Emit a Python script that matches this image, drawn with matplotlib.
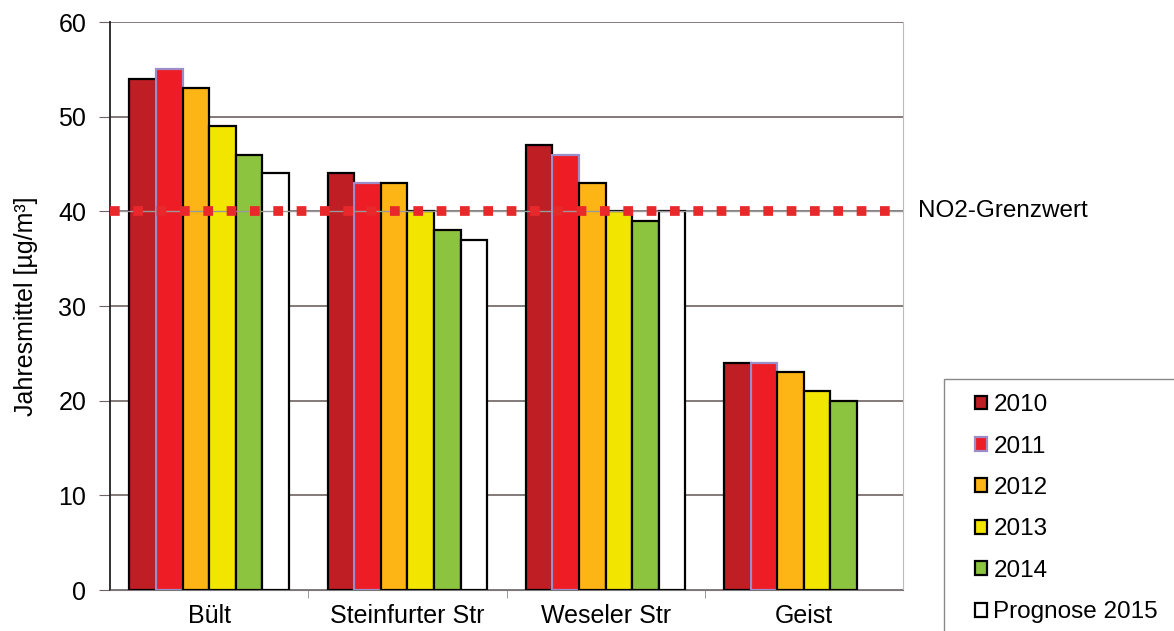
import matplotlib.pyplot as plt
from matplotlib.patches import Rectangle
import numpy as np

plt.rcParams['font.family'] = ['Liberation Sans', 'DejaVu Sans']

# Data
stations = ['Bült', 'Steinfurter Str', 'Weseler Str', 'Geist']
years = ['2010', '2011', '2012', '2013', '2014', 'Prognose 2015']
values = {
    '2010': [54, 44, 47, 24],
    '2011': [55, 43, 46, 24],
    '2012': [53, 43, 43, 23],
    '2013': [49, 40, 40, 21],
    '2014': [46, 38, 39, 20],
    'Prognose 2015': [44, 37, 40, np.nan],
}
limit_value = 40
limit_label = 'NO2-Grenzwert'

colors = ['#BE1E24', '#EE1D25', '#FDB515', '#F2E500', '#8CC43F', '#FFFFFF']
edges = ['#000000', '#9C8CC8', '#000000', '#000000', '#000000', '#000000']

fig = plt.figure(figsize=(11.74, 6.31), dpi=100)
ax = fig.add_axes([110 / 1174, 41 / 631, 793 / 1174, 568 / 631])

x = np.arange(len(stations))
width = 0.134
for i, yr in enumerate(years):
    ax.bar(x + (i - 2.5) * width, values[yr], width, color=colors[i],
           edgecolor=edges[i], linewidth=1.6, label=yr, zorder=3)

ax.set_xlim(-0.5, len(stations) - 0.5)
ax.set_ylim(0, 60)
ax.set_yticks(range(0, 61, 10))
ax.yaxis.grid(True, color='#6E6262', linewidth=1.2, zorder=0)
ax.tick_params(axis='y', length=8, color='#6E6262', labelsize=18, pad=9)
ax.set_xticks(x)
ax.set_xticklabels(stations, fontsize=18)
ax.tick_params(axis='x', length=0, pad=10)
ax.set_xticks(np.arange(0.5, len(stations) - 0.5, 1), minor=True)
ax.tick_params(axis='x', which='minor', length=6, color='#888888')
ax.set_ylabel('Jahresmittel [µg/m³]', fontsize=18)
ax.yaxis.set_label_coords(-72 / 793, 0.5)

ax.spines['left'].set_color('#222222')
ax.spines['left'].set_linewidth(1.3)
ax.spines['bottom'].set_color('#777777')
ax.spines['top'].set_visible(False)
ax.spines['right'].set_color('#BBBBBB')

# Limit value line
ax.axhline(limit_value, color='#999999', linewidth=1, zorder=4)
ax.plot([-0.5, len(stations) - 0.5], [limit_value, limit_value], color='#E8282B',
        linestyle=(0, (1, 1.4)), linewidth=7, zorder=5)
ax.text(1.019, limit_value, limit_label, transform=ax.get_yaxis_transform(),
        va='center', ha='left', fontsize=17.5)

# Legend with box running off the figure edge
fig.patches.append(Rectangle((944 / 1174, -0.1), 0.3, 0.1 + 252 / 631,
                             transform=fig.transFigure, facecolor='white',
                             edgecolor='#888888', linewidth=1))
fig.legend(loc='upper left', bbox_to_anchor=(963 / 1174, 1 - 382 / 631),
           frameon=False, fontsize=17.5, handlelength=0.5, handleheight=0.5,
           handletextpad=0.25, labelspacing=0.8, borderpad=0)

fig.savefig('out.png', dpi=100)
